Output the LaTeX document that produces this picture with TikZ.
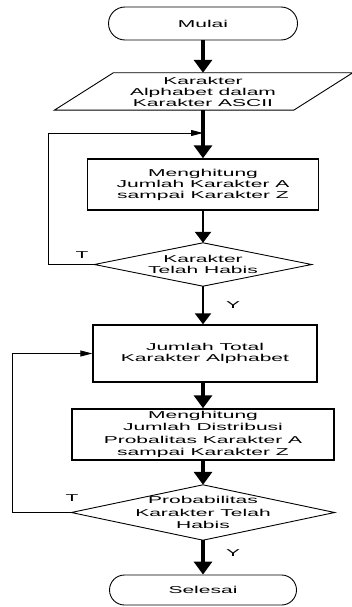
\documentclass[tikz,border=0pt]{standalone}
\usepackage{fontspec}
\setmainfont{Liberation Sans}[FakeStretch=2.1]
\usetikzlibrary{arrows.meta,shapes.misc}

\begin{document}
\begin{tikzpicture}[x=1pt,y=-1pt,
	every node/.style={font=\fontsize{10}{11}\selectfont, align=center, inner sep=0pt},
	wide/.style={font=\fontsize{10}{12.5}\selectfont},
	term/.style={rounded rectangle, draw, line width=0.9pt},
	proc/.style={rectangle, draw, line width=1.4pt},
	flow/.style={line width=3.5pt, -{Triangle[length=13pt,width=18pt]}},
	flowthin/.style={line width=2.4pt, -{Triangle[length=11pt,width=16pt]}},
	back/.style={line width=0.9pt, -{Triangle[length=12pt,width=6pt]}}]
	\useasboundingbox (0,0) rectangle (352,607);

	% terminals
	\node [term, minimum width=189pt, minimum height=33pt] (start) at (203,23.5) {Mulai};
	\node [term, minimum width=187pt, minimum height=30pt] (stop) at (203,590) {Selesai};

	% input (parallelogram drawn from the node corners)
	\node [minimum width=239pt, minimum height=37pt] (input) at (203,91.5) {Karakter\\Alphabet dalam\\Karakter ASCII};
	\draw [line width=0.9pt] ([xshift=30pt]input.north west) -- ([xshift=30pt]input.north east)
		-- ([xshift=-29pt]input.south east) -- ([xshift=-29pt]input.south west) -- cycle;

	% processes
	\node [proc, minimum width=231pt, minimum height=51pt] (proc1) at (203,184.5) {Menghitung\\Jumlah Karakter A\\sampai Karakter Z};
	\node [proc, minimum width=224pt, minimum height=57pt] (proc2) at (205,353.5) {Jumlah Total\\Karakter Alphabet};
	\node [proc, wide, minimum width=262pt, minimum height=51pt] (proc3) at (203,434.5) {Menghitung\\Jumlah Distribusi\\Probalitas Karakter A\\sampai Karakter Z};

	% decisions
	\node [minimum width=217pt, minimum height=43pt] (dec1) at (203,264.5) {Karakter\\Telah Habis};
	\draw [line width=0.9pt] (dec1.west) -- (dec1.north) -- (dec1.east) -- (dec1.south) -- cycle;
	\node [wide, minimum width=263pt, minimum height=55pt] (dec2) at (203,512.5) {Probabilitas\\Karakter Telah\\Habis};
	\draw [line width=0.9pt] (dec2.west) -- (dec2.north) -- (dec2.east) -- (dec2.south) -- cycle;

	% main flow
	\coordinate (join1) at (203,133);
	\draw [flow] (start.south) -- (input.north);
	\draw [flow] (input.south) -- (proc1.north);
	\draw [flowthin] (proc1.south) -- (dec1.north);
	\draw [flowthin] (dec1.south) -- (dec1.south |- proc2.north);
	\draw [flow] (proc2.south -| proc3.north) -- (proc3.north);
	\draw [flow] (proc3.south) -- (dec2.north);
	\draw [flow] (dec2.south) -- (stop.north);

	% loops back
	\coordinate (loopa) at (48,133);
	\coordinate (loopb) at (12,353.5);
	\draw [back] (dec1.west) -| (loopa) -- (join1);
	\draw [back] (dec2.west) -| (loopb) -- (proc2.west);

	% labels
	\node (t1) at (82,255) {T};
	\node (y1) at (233,305) {Y};
	\node (t2) at (72,498) {T};
	\node (y2) at (233,553) {Y};
\end{tikzpicture}
\end{document}
